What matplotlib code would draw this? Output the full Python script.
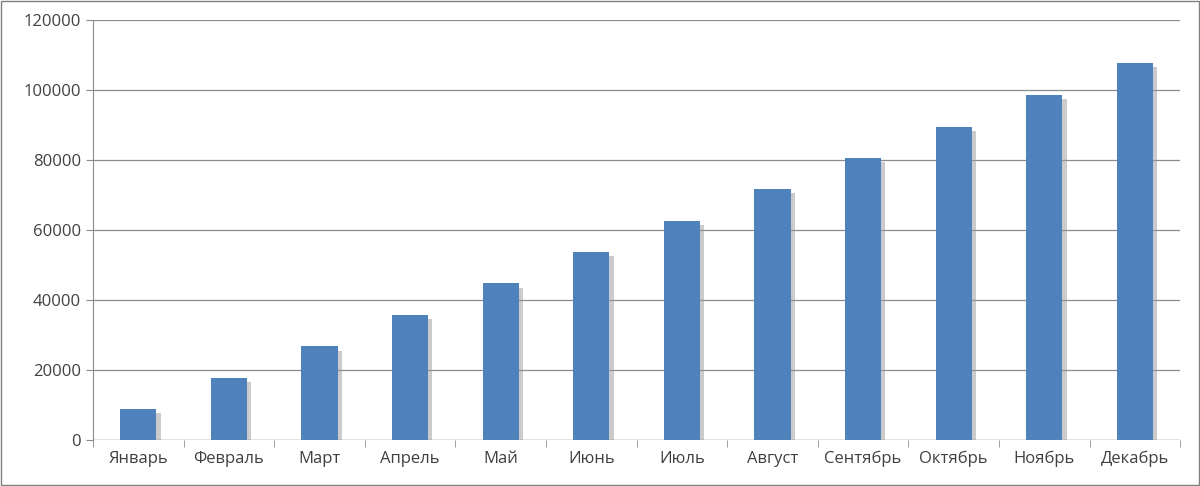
import matplotlib.pyplot as plt
import matplotlib.patheffects as pe
import numpy as np

months = ['Январь', 'Февраль', 'Март', 'Апрель', 'Май', 'Июнь', 'Июль',
          'Август', 'Сентябрь', 'Октябрь', 'Ноябрь', 'Декабрь']
values = [8900, 17800, 26700, 35700, 44700, 53600, 62600,
          71600, 80500, 89400, 98600, 107600]

plt.rcParams['font.family'] = ['Open Sans', 'DejaVu Sans']
fig = plt.figure(figsize=(12, 4.86), dpi=100)
ax = fig.add_axes([0.0775, 0.095, 0.906, 0.864])
x = np.arange(len(months))
bars = ax.bar(x, values, width=0.4, color='#4f81bd', zorder=3)
for b in bars:
    b.set_path_effects([pe.SimplePatchShadow(offset=(3, -3), shadow_rgbFace='#999999', alpha=0.5), pe.Normal()])

ax.set_xlim(-0.5, len(months) - 0.5)
ax.set_ylim(0, 120000)
ax.set_yticks(range(0, 120001, 20000))
ax.set_xticks(x)
ax.set_xticklabels(months)
ax.yaxis.grid(True, color='#8c8c8c', linewidth=0.9, zorder=0)
for s in ['top', 'right', 'bottom']:
    ax.spines[s].set_visible(False)
ax.spines['left'].set_color('#8c8c8c')
ax.axhline(0, color='#8c8c8c', linewidth=0.9, zorder=4)
ax.set_xticks(np.arange(-0.5, len(months), 1), minor=True)
ax.tick_params(axis='x', which='major', length=0, labelsize=12, colors='#404040', pad=8)
ax.tick_params(axis='x', which='minor', length=5, color='#8c8c8c')
ax.tick_params(axis='y', length=5, color='#8c8c8c', labelsize=12, labelcolor='#404040')

fig.patches.append(plt.Rectangle((0.001, 0.002), 0.998, 0.996, transform=fig.transFigure,
                                 fill=False, edgecolor='#7f7f7f', linewidth=1))
fig.savefig('out.png')
